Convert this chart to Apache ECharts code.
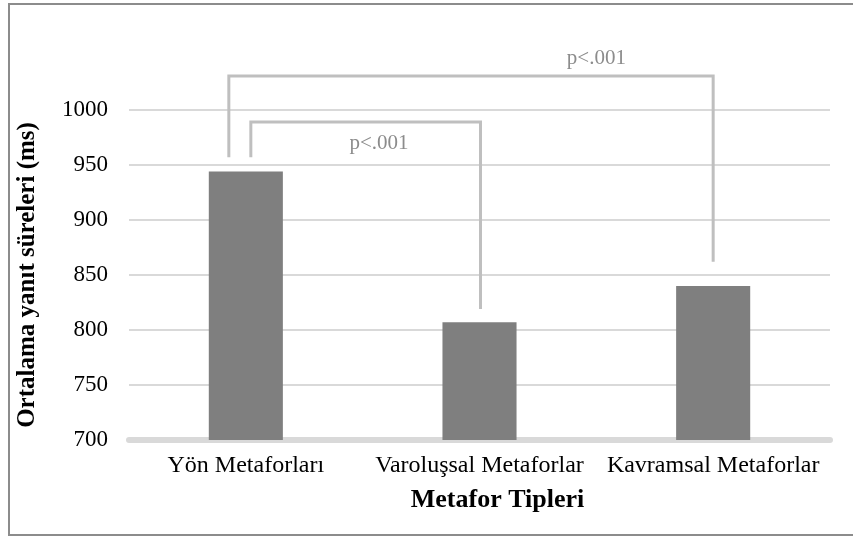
<!DOCTYPE html>
<html>
<head>
<meta charset="utf-8">
<script src="https://cdn.jsdelivr.net/npm/echarts@6/dist/echarts.min.js"></script>
<style>
html,body{margin:0;padding:0;background:#fff;}
#chart{width:853px;height:537px;}
</style>
</head>
<body>
<div id="chart"></div>
<script>
// ---- data ----
const categories = ['Yön Metaforları', 'Varoluşsal Metaforlar', 'Kavramsal Metaforlar'];
const meanRT = [944, 807, 840];
const yTicks = [700, 750, 800, 850, 900, 950, 1000];
// significance brackets: [fromCategory, toCategory, leftFootValue, rightFootValue, topValue]
const bracketFrom = [0, 0];
const bracketTo = [1, 2];
const bracketLeftFoot = [957, 957];
const bracketRightFoot = [819, 862];
const bracketTop = [989, 1031];
const bracketLabels = ['p<.001', 'p<.001'];
const xTitle = 'Metafor Tipleri';
const yTitle = 'Ortalama yanıt süreleri (ms)';

const FONT = '"Liberation Serif", "Times New Roman", serif';
const chart = echarts.init(document.getElementById('chart'));

// pixel nudges of bracket feet relative to the category centre
const leftNudge = [5, -17];
const rightNudge = [1, 0];
// label placement: fraction between from/to centres, and value
const labelFrac = [0.57, 0.75];
const labelVal = [970, 1047];

const bracketData = bracketFrom.map((f, i) => [f, bracketTo[i], bracketLeftFoot[i], bracketRightFoot[i], bracketTop[i], i]);

chart.setOption({
  animation: false,
  backgroundColor: '#fff',
  graphic: [{
    type: 'rect',
    shape: { x: 9, y: 4, width: 860, height: 531 },
    style: { fill: 'none', stroke: '#8c8c8c', lineWidth: 2 },
    silent: true
  }],
  grid: { left: 129, right: 23, top: 110, bottom: 97 },
  xAxis: {
    type: 'category',
    data: categories,
    name: xTitle,
    nameLocation: 'middle',
    nameGap: 47,
    nameTextStyle: { fontFamily: FONT, fontWeight: 'bold', fontSize: 26, color: '#000', padding: [0, 0, 0, 36] },
    axisLine: { lineStyle: { color: '#d9d9d9', width: 6 } },
    axisTick: { show: false },
    axisLabel: { fontFamily: FONT, fontSize: 24, color: '#000', margin: 14, interval: 0 }
  },
  yAxis: {
    type: 'value',
    min: 700, max: 1000, interval: 50,
    name: yTitle,
    nameLocation: 'middle',
    nameGap: 89,
    nameTextStyle: { fontFamily: FONT, fontWeight: 'bold', fontSize: 25, color: '#000' },
    axisLine: { show: false },
    axisTick: { show: false },
    axisLabel: { fontFamily: FONT, fontSize: 23, color: '#000', margin: 21, formatter: v => String(v) },
    splitLine: { lineStyle: { color: '#d9d9d9', width: 2 } }
  },
  series: [{
    type: 'bar',
    data: meanRT,
    barWidth: '31.7%',
    itemStyle: { color: '#7f7f7f' },
    z: 2
  }, {
    type: 'custom',
    clip: false,
    z: 3,
    data: bracketData,
    renderItem: function (params, api) {
      const i = api.value(5);
      const fromC = api.coord([api.value(0), api.value(2)]);
      const toC = api.coord([api.value(1), api.value(3)]);
      const topY = api.coord([api.value(0), api.value(4)])[1];
      const x1 = fromC[0] + leftNudge[i];
      const x2 = toC[0] + rightNudge[i];
      const cFrom = api.coord([api.value(0), 700])[0];
      const cTo = api.coord([api.value(1), 700])[0];
      const lx = cFrom + (cTo - cFrom) * labelFrac[i];
      const ly = api.coord([api.value(0), labelVal[i]])[1];
      return {
        type: 'group',
        children: [{
          type: 'polyline',
          shape: { points: [[x1, fromC[1]], [x1, topY], [x2, topY], [x2, toC[1]]] },
          style: { stroke: '#bfbfbf', lineWidth: 3, fill: 'none' }
        }, {
          type: 'text',
          x: lx, y: ly,
          style: { text: bracketLabels[i], fill: '#8c8c8c', font: '21px ' + FONT, align: 'center', verticalAlign: 'middle' }
        }]
      };
    }
  }]
});
</script>
</body>
</html>
